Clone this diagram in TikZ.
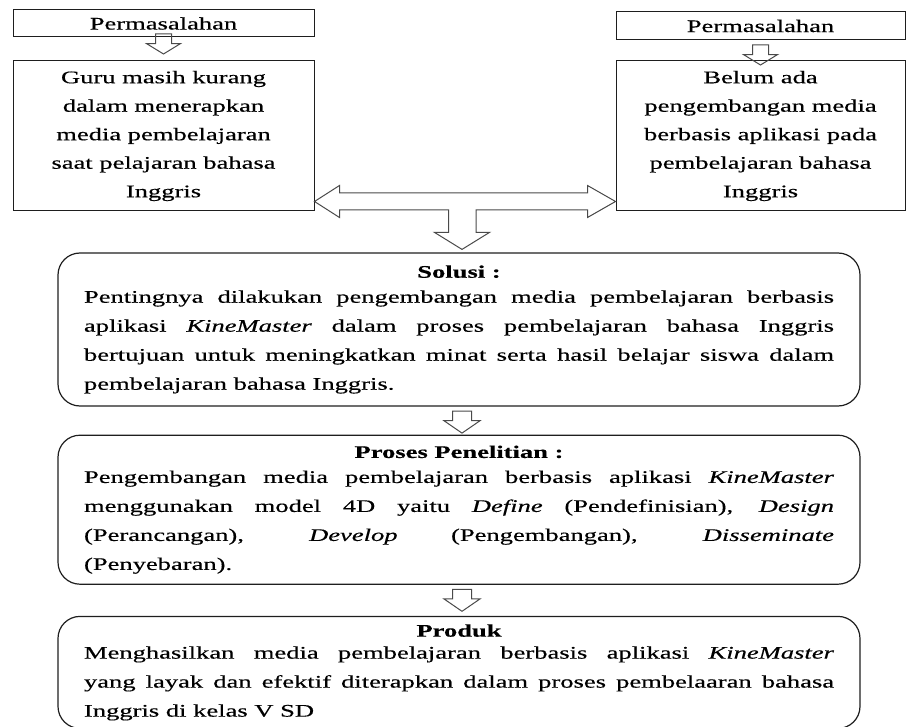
\documentclass[tikz,border=0pt]{standalone}
\usepackage{fontspec}
\setmainfont{Liberation Serif}[FakeStretch=1.5, FakeBold=0.4]
\usetikzlibrary{shapes.arrows, positioning, calc}
\definecolor{garis}{HTML}{1E1E1E}
\definecolor{panahabu}{HTML}{4A4A4A}
\tolerance=10000
\hyphenpenalty=10000
\tikzset{
  judul/.style={rectangle, draw=garis, line width=1pt, inner sep=0pt,
    minimum height=27pt, font=\fontsize{17.7}{28.5}\selectfont},
  masalah/.style={rectangle, draw=garis, line width=1pt, align=center,
    inner sep=0pt, minimum height=150pt, font=\fontsize{17.7}{28.5}\selectfont},
  tahap/.style={rectangle, rounded corners=22pt, draw=garis, line width=1.2pt,
    text width=750pt, align=justify, minimum width=802pt,
    font=\fontsize{17.7}{29}\selectfont},
  panah/.style={single arrow, draw=panahabu, line width=1pt, rotate=-90,
    anchor=tail, inner xsep=0pt, inner ysep=7.5pt, single arrow head extend=9pt,
    single arrow tip angle=117, minimum height=20pt},
  panahlebar/.style={panah, inner ysep=9pt, single arrow head extend=8.5pt,
    single arrow tip angle=111, minimum height=22pt},
  panahT/.style={draw=panahabu, line width=1pt, line join=miter},
}
\begin{document}
\begin{tikzpicture}[x=1pt, y=1pt, node distance=23pt]
  \useasboundingbox (0,0) rectangle (907,-727);

  \node[judul, minimum width=301pt] (masA) at (163.5,-23.5) {Permasalahan};
  \node[masalah, minimum width=301pt, below=of masA] (guru)
    {Guru masih kurang\\ dalam menerapkan\\ media pembelajaran\\
     saat pelajaran bahasa\\ Inggris};
  \node[judul, minimum width=289pt, minimum height=28pt] (masB) at (760.5,-26) {Permasalahan};
  \node[masalah, minimum width=289pt, below=20pt of masB] (belum)
    {Belum ada\\ pengembangan media\\ berbasis aplikasi pada\\
     pembelajaran bahasa\\ Inggris};

  \node[panah, xshift=-4pt] (arA) at (masA.south) {};
  \node[panah, xshift=4pt] (arB) at (masB.south) {};

  \node[tahap, minimum height=153pt] (solusi) at (459,-329.5)
    {{\centering\textbf{Solusi :}\par}\vspace{-4pt}%
     Pentingnya dilakukan pengembangan media pembelajaran berbasis\linebreak
     aplikasi \textit{KineMaster} dalam proses pembelajaran bahasa Inggris\linebreak
     bertujuan untuk meningkatkan minat serta hasil belajar siswa dalam\linebreak
     pembelajaran bahasa Inggris.};
  \node[tahap, minimum height=149pt, below=28pt of solusi] (proses)
    {{\centering\textbf{Proses Penelitian :}\par}\vspace{-4pt}%
     Pengembangan media pembelajaran berbasis aplikasi \textit{KineMaster}\linebreak
     menggunakan model 4D yaitu \textit{Define} (Pendefinisian), \textit{Design}\linebreak
     (Perancangan), \textit{Develop} (Pengembangan), \textit{Disseminate}\linebreak
     (Penyebaran).};
  \node[tahap, minimum height=112pt, below=31pt of proses] (produk)
    {{\centering\textbf{Produk}\par}\vspace{-7pt}%
     Menghasilkan media pembelajaran berbasis aplikasi \textit{KineMaster}\linebreak
     yang layak dan efektif diterapkan dalam proses pembelaaran bahasa\linebreak
     Inggris di kelas V SD};

  \node[panahlebar] (arC) at ($(solusi.south)+(3,-4)$) {};
  \node[panahlebar] (arD) at ($(proses.south)+(3,-4)$) {};

  \coordinate (kiri) at ($(guru.south east)+(0,10)$);
  \coordinate (kanan) at ($(belum.south west)+(0,10)$);
  \coordinate (bawah) at ($(solusi.north)+(3,3)$);
  \draw[panahT] (kiri) -- ++(25,16) -- ++(0,-7.5) -- ($(kanan)+(-28,8.5)$)
    -- ++(0,7.5) -- (kanan) -- ++(-28,-16) -- ++(0,7.5)
    -| ($(bawah)+(14,17)$) -- ++(13.5,0) -- (bawah) -- ++(-27.5,17)
    -- ++(14,0) |- ($(kiri)+(25,-8.5)$) -- ++(0,-7.5) -- cycle;
\end{tikzpicture}
\end{document}
